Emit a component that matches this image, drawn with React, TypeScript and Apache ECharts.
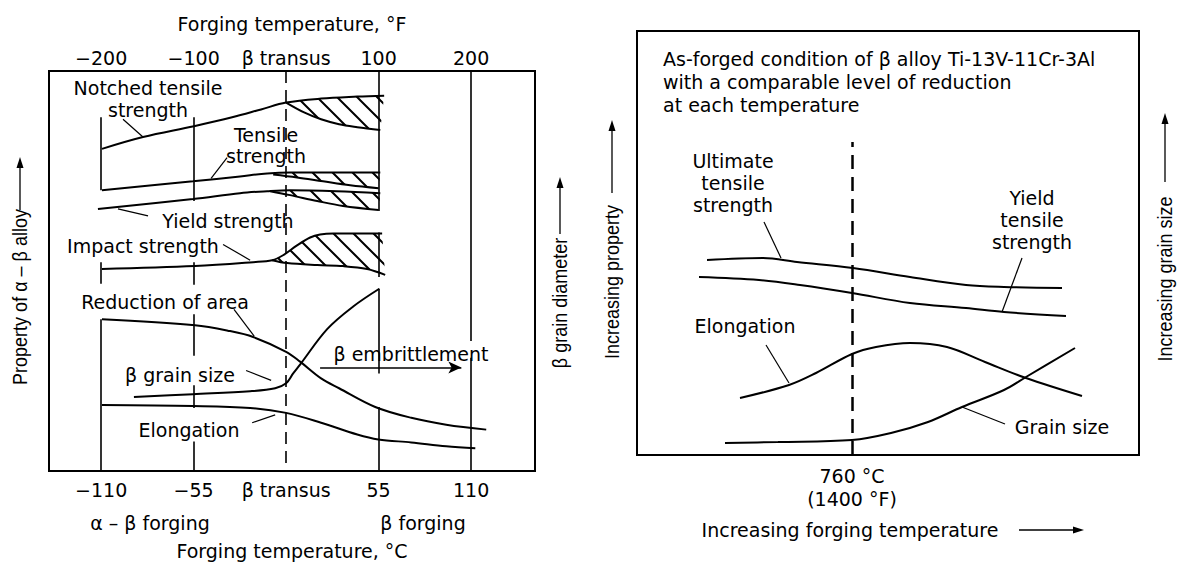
import React, { useEffect, useRef } from 'react';
import * as echarts from 'echarts';

// ---------- Left panel: alpha-beta alloy, x in °C relative to the beta transus ----------
const celsiusTicks = [-110, -55, 0, 55, 110];
const fahrenheitTicks = [-200, -100, 0, 100, 200];
const C_MIN = -141;
const C_MAX = 148;
const F_PER_C = 200 / 110;

// property level in arbitrary units (0 = bottom of frame, 406 = top)
const notchedTensile = [[-109.5, 327], [-85.1, 339], [-54.8, 350], [-32.1, 359], [-14.9, 367], [0, 374], [20.8, 378], [42.3, 380], [58.3, 381]];
const notchedTensileLow = [[0, 374], [10.7, 364], [20.8, 357], [31.5, 352], [42.3, 349], [56, 346]];
const tensileStrength = [[-109.5, 285], [-55.4, 294], [-27.4, 299], [-11.3, 302], [2.4, 303], [56, 303]];
const tensileStrengthLow = [[-7.7, 301], [6.5, 298], [22, 294], [38.1, 290], [55, 287]];
const yieldStrength = [[-111.9, 266], [-55.4, 276], [-27.4, 282], [-11.3, 284], [2.4, 285], [30, 284], [56, 282]];
const yieldStrengthLow = [[-9.5, 284], [2.4, 280], [18.5, 274], [33.9, 269], [55, 265]];
const impactStrength = [[-109.5, 205], [-54.2, 208], [-19.6, 212], [-8.3, 214], [-1.8, 219], [6.5, 229], [14.3, 237], [20.2, 240], [28, 241], [57.1, 241]];
const impactStrengthLow = [[-8.3, 214], [0.6, 211], [18.5, 209], [33.9, 208], [48.2, 205], [58.9, 199]];
const reductionOfArea = [[-109.5, 154], [-54.2, 148], [-33.3, 142], [-19.6, 136], [0, 121], [8.3, 111], [20.8, 94], [31.5, 84], [53, 65], [74.4, 54], [95.2, 47], [119, 42]];
const betaGrainSize = [[-90.5, 75], [-55.4, 78], [-21.4, 81], [-6.5, 84], [0, 89], [4.2, 99], [8.3, 108], [24.4, 144], [39.9, 167], [55.4, 185]];
const elongationLeft = [[-109.5, 67], [-55.4, 66], [-21.4, 64], [0, 59], [20.8, 49], [42.3, 37], [54.8, 32], [74.4, 29], [95.2, 25], [112.5, 23]];

// vertical reference lines: [°C, from level, to level]
const leftVerticals = [
  [-110, 359, 285], [-110, 212, 190], [-110, 154, 0],
  [-55, 359, 274], [-55, 212, 189], [-55, 159, 117], [-55, 87, 64], [-55, 30, 0],
  [55, 406, 264], [55, 242, 197], [55, 185, 99], [55, 65, 0],
  [110, 406, 132], [110, 115, 0],
];
const transusLine = [0, 406, 0];
const leftLeaders = [
  [[-85.1, 339], [-97.0, 357]],
  [[-44.6, 297], [-35.1, 318]],
  [[-100, 266], [-82.1, 259]],
  [[-37.5, 230], [-21.4, 214]],
  [[-31.0, 164], [-19.0, 137]],
  [[-23.8, 102], [-8.9, 92]],
  [[-20.2, 49], [-6.5, 57]],
];
const embrittlementArrow = [[20.2, 105], [104.2, 105]];

// ---------- Right panel: beta alloy Ti-13V-11Cr-3Al, x in °C ----------
const T_MIN = 545;
const T_MAX = 1047;
const rightTicks = [760];
const ultimateTensile = [[615, 195], [671, 197], [705, 193], [761, 187], [818, 178], [874, 170], [912, 168], [970, 167]];
const yieldTensile = [[607, 178], [667, 175], [708, 170], [760, 162], [818, 152], [874, 147], [912, 143], [974, 139]];
const elongationRight = [[648, 57], [697, 70], [724, 82], [760, 101], [784, 108], [818, 112], [855, 108], [893, 93], [934, 77], [990, 59]];
const grainSizeRight = [[633, 12], [686, 13], [760, 15], [799, 22], [836, 33], [870, 48], [912, 65], [934, 78], [983, 107]];
const rightDashed = [760, 0, 313];
const rightLeaders = [
  [[672, 233], [689, 197]],
  [[930, 197], [910, 143]],
  [[674, 110], [697, 72]],
  [[870, 48], [913, 31]],
];

const FONT = '"DejaVu Sans", sans-serif';
const VFONT = '"Liberation Sans", Arial, sans-serif';
const FS = 19;

function fmtC(v: number) {
  if (v === 0) return 'β transus';
  return v < 0 ? '\u2212' + Math.abs(v) : String(v);
}

function seg(a: number[], b: number[]) {
  return [{ coord: a }, { coord: b }];
}

function lineSeries(data: number[][], xi: number, yi: number, width = 2) {
  return {
    type: 'line', data, xAxisIndex: xi, yAxisIndex: yi, smooth: 0.35, showSymbol: false, symbol: 'none',
    lineStyle: { color: '#000', width }, silent: true, z: 3, clip: false,
  };
}

function markSeries(xi: number, yi: number, pairs: any[], style: any, symbol: any = 'none', symbolSize: any = 10) {
  return {
    type: 'line', data: [], xAxisIndex: xi, yAxisIndex: yi, silent: true, z: 2,
    markLine: {
      silent: true, symbol, symbolSize, animation: false,
      label: { show: false }, emphasis: { disabled: true },
      lineStyle: { color: '#000', ...style },
      data: pairs,
    },
  };
}

function bandSeries(upper: number[][], lower: number[][], pattern: any) {
  const top = [lower[0], ...upper.filter((p) => p[0] > lower[0][0])];
  return {
    type: 'custom', xAxisIndex: 0, yAxisIndex: 0, silent: true, z: 1, data: [[0, 0]],
    renderItem: (_p: any, api: any) => {
      const pts = top.map((p) => api.coord(p)).concat(lower.slice().reverse().map((p) => api.coord(p)));
      return { type: 'polygon', shape: { points: pts }, style: { fill: pattern, stroke: null } };
    },
  };
}

function text(x: number, y: number, t: string, extra: any = {}) {
  return {
    type: 'text', x, y, silent: true, z: 10,
    style: { text: t, fill: '#000', fontSize: FS, fontFamily: FONT, align: 'center', verticalAlign: 'middle', lineHeight: 21, ...extra },
  };
}

function vText(x: number, y: number, t: string) {
  return {
    type: 'text', x, y, rotation: Math.PI / 2, scaleY: 1.12, silent: true, z: 10,
    style: { text: t, fill: '#000', fontSize: 18, fontFamily: VFONT, align: 'center', verticalAlign: 'middle' },
  };
}

function upArrow(x: number, yTail: number, yTip: number) {
  return [
    { type: 'line', silent: true, shape: { x1: x, y1: yTail, x2: x, y2: yTip + 8 }, style: { stroke: '#000', lineWidth: 1.3 } },
    { type: 'polygon', silent: true, shape: { points: [[x, yTip], [x - 3.5, yTip + 11], [x + 3.5, yTip + 11]] }, style: { fill: '#000' } },
  ];
}

function rightArrow(xTail: number, xTip: number, y: number) {
  return [
    { type: 'line', silent: true, shape: { x1: xTail, y1: y, x2: xTip - 8, y2: y }, style: { stroke: '#000', lineWidth: 1.3 } },
    { type: 'polygon', silent: true, shape: { points: [[xTip, y], [xTip - 11, y - 3.5], [xTip - 11, y + 3.5]] }, style: { fill: '#000' } },
  ];
}

export default function App() {
  const ref = useRef<HTMLDivElement>(null);

  useEffect(() => {
    if (!ref.current) return;
    const chart = echarts.init(ref.current, null, { renderer: 'svg' });

    const canvas = document.createElement('canvas');
    canvas.width = 20;
    canvas.height = 20;
    const ctx = canvas.getContext('2d')!;
    ctx.strokeStyle = '#000';
    ctx.lineWidth = 2;
    ctx.beginPath();
    ctx.moveTo(-2, -2); ctx.lineTo(22, 22);
    ctx.moveTo(-2, 18); ctx.lineTo(2, 22);
    ctx.moveTo(18, -2); ctx.lineTo(22, 2);
    ctx.stroke();
    const hatch = { image: canvas, repeat: 'repeat', imageWidth: 20, imageHeight: 20 };

    const axisLabelBase = { color: '#000', fontSize: FS, fontFamily: FONT };
    const nameStyle = { color: '#000', fontSize: FS, fontFamily: FONT };

    const option: any = {
      animation: false,
      backgroundColor: '#fff',
      grid: [
        { left: 49, top: 71, width: 486, height: 406, show: true, borderColor: '#000', borderWidth: 2, backgroundColor: 'transparent' },
        { left: 637, top: 31, width: 502, height: 424, show: true, borderColor: '#000', borderWidth: 2, backgroundColor: 'transparent' },
      ],
      xAxis: [
        {
          gridIndex: 0, type: 'value', position: 'bottom', min: C_MIN, max: C_MAX,
          axisLine: { show: false }, axisTick: { show: false }, splitLine: { show: false },
          axisLabel: { ...axisLabelBase, customValues: celsiusTicks, formatter: fmtC, margin: 9 },
          name: 'Forging temperature, °C', nameLocation: 'middle', nameGap: 70, nameTextStyle: nameStyle,
        },
        {
          gridIndex: 0, type: 'value', position: 'top', min: C_MIN * F_PER_C, max: C_MAX * F_PER_C,
          axisLine: { show: false }, axisTick: { show: false }, splitLine: { show: false },
          axisLabel: { ...axisLabelBase, customValues: fahrenheitTicks, formatter: fmtC, margin: 4 },
          name: 'Forging temperature, °F', nameLocation: 'middle', nameGap: 38, nameTextStyle: nameStyle,
        },
        {
          gridIndex: 1, type: 'value', position: 'bottom', min: T_MIN, max: T_MAX,
          axisLine: { show: false }, axisTick: { show: false }, splitLine: { show: false },
          axisLabel: { ...axisLabelBase, customValues: rightTicks, lineHeight: 23, margin: 9,
            formatter: (v: number) => `${v} °C\n(${Math.round((v * 9) / 5 + 32)} °F)` },
        },
      ],
      yAxis: [
        { gridIndex: 0, type: 'value', min: 0, max: 406, show: false },
        { gridIndex: 1, type: 'value', min: 0, max: 424, show: false },
      ],
      series: [
        bandSeries(notchedTensile, notchedTensileLow, hatch),
        bandSeries(tensileStrength, tensileStrengthLow, hatch),
        bandSeries(yieldStrength, yieldStrengthLow, hatch),
        bandSeries(impactStrength, impactStrengthLow, hatch),
        lineSeries(notchedTensile, 0, 0),
        lineSeries(notchedTensileLow, 0, 0),
        lineSeries(tensileStrength, 0, 0),
        lineSeries(tensileStrengthLow, 0, 0),
        lineSeries(yieldStrength, 0, 0),
        lineSeries(yieldStrengthLow, 0, 0),
        lineSeries(impactStrength, 0, 0),
        lineSeries(impactStrengthLow, 0, 0),
        lineSeries(reductionOfArea, 0, 0),
        lineSeries(betaGrainSize, 0, 0),
        lineSeries(elongationLeft, 0, 0),
        markSeries(0, 0, leftVerticals.map(([x, a, b]) => seg([x, a], [x, b])), { width: 1.6, type: 'solid' }),
        markSeries(0, 0, [seg([transusLine[0], transusLine[1]], [transusLine[0], transusLine[2]])], { width: 1.6, type: [12, 7] }),
        markSeries(0, 0, leftLeaders.map(([a, b]) => seg(a, b)), { width: 1.2, type: 'solid' }),
        markSeries(0, 0, [seg(embrittlementArrow[0], embrittlementArrow[1])], { width: 1.5, type: 'solid' }, ['none', 'arrow'], [9, 13]),
        lineSeries(ultimateTensile, 2, 1),
        lineSeries(yieldTensile, 2, 1),
        lineSeries(elongationRight, 2, 1),
        lineSeries(grainSizeRight, 2, 1),
        markSeries(2, 1, [seg([rightDashed[0], rightDashed[1]], [rightDashed[0], rightDashed[2]])], { width: 2.5, type: [14, 8] }),
        markSeries(2, 1, rightLeaders.map(([a, b]) => seg(a, b)), { width: 1.2, type: 'solid' }),
      ],
      graphic: [
        // left panel labels
        text(148, 99, 'Notched tensile\nstrength', { lineHeight: 22 }),
        text(266, 145, 'Tensile\nstrength', { lineHeight: 21 }),
        text(228, 221, 'Yield strength'),
        text(143, 246, 'Impact strength'),
        text(165, 302, 'Reduction of area'),
        text(180, 375, 'β grain size'),
        text(189, 430, 'Elongation'),
        text(411, 354, 'β embrittlement'),
        text(150, 523, 'α – β forging'),
        text(423, 523, 'β forging'),
        vText(20, 297, 'Property of α – β alloy'),
        ...upArrow(20, 210, 157),
        vText(560, 303, 'β grain diameter'),
        ...upArrow(560, 234, 177),
        // right panel labels
        text(663, 47, 'As-forged condition of β alloy Ti-13V-11Cr-3Al\nwith a comparable level of reduction\nat each temperature', { align: 'left', verticalAlign: 'top', lineHeight: 23 }),
        text(733, 183, 'Ultimate\ntensile\nstrength', { lineHeight: 22 }),
        text(1032, 220, 'Yield\ntensile\nstrength', { lineHeight: 22 }),
        text(745, 326, 'Elongation'),
        text(1062, 427, 'Grain size'),
        text(850, 530, 'Increasing forging temperature'),
        ...rightArrow(1019, 1084, 530),
        vText(612, 282, 'Increasing property'),
        ...upArrow(612, 193, 120),
        vText(1165, 279, 'Increasing grain size'),
        ...upArrow(1165, 182, 113),
      ],
    };

    chart.setOption(option);
    return () => chart.dispose();
  }, []);

  return (
    <div
      ref={ref}
      style={{ position: 'fixed', left: 0, top: 0, width: 1180, height: 565, background: '#fff' }}
    />
  );
}
